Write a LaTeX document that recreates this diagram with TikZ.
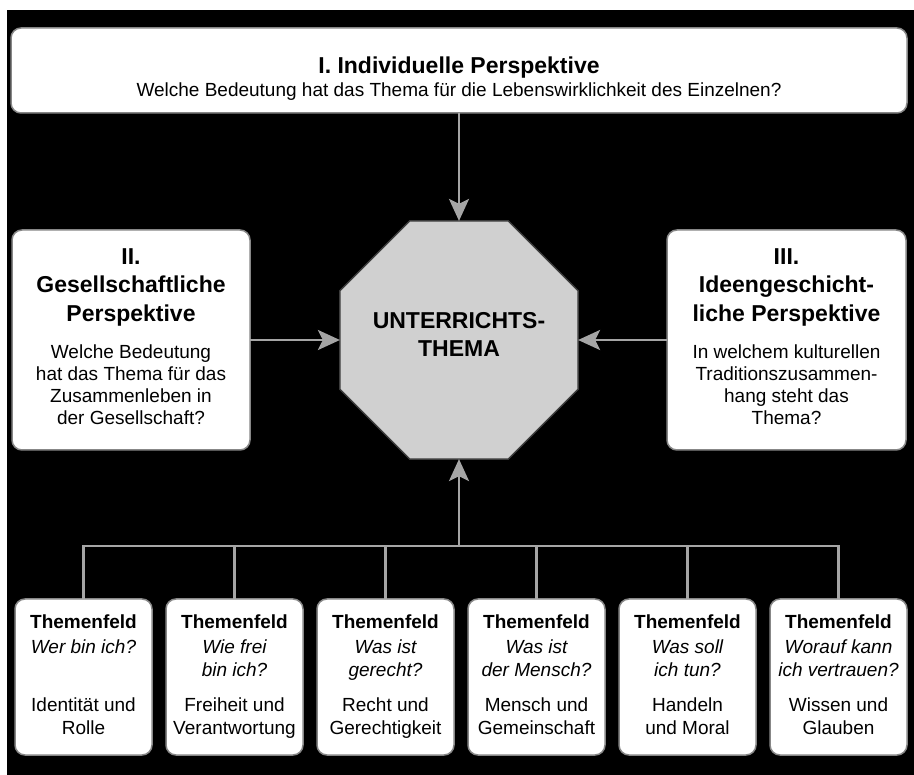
\documentclass[tikz,border=0pt]{standalone}
\usepackage{fontspec}
\setmainfont{Liberation Sans}
\usetikzlibrary{shapes.geometric,arrows.meta}
\definecolor{boxgray}{RGB}{135,135,135}
\definecolor{linegray}{RGB}{165,165,165}
\definecolor{octfill}{RGB}{208,208,208}
\definecolor{octline}{RGB}{60,60,60}
\begin{document}
\begin{tikzpicture}[x=1pt,y=-1pt,
  box/.style={draw=boxgray, line width=1.5pt, fill=white, rounded corners=10pt, inner sep=0pt, outer sep=0pt},
  con/.style={draw=linegray, line width=2.8pt},
  arr/.style={con, -{Stealth[length=22pt,width=20pt,inset=5pt,fill=linegray]}},
  tb/.style={font=\bfseries\fontsize{23}{28}\selectfont},
  sb/.style={font=\bfseries\fontsize{19}{23}\selectfont},
  t/.style={font=\fontsize{19}{23}\selectfont},
  ti/.style={font=\itshape\fontsize{19}{23}\selectfont},
  lbl/.style={inner sep=0pt, outer sep=0pt, anchor=base, text=black}
]
\useasboundingbox (0,0) rectangle (914,775);
\fill[white] (0,0) rectangle (914,775);
\fill[black] (7,10) rectangle (914,775);

% boxes
\node[box, minimum width=896pt, minimum height=85pt] (top) at (459,70.5) {};
\node[box, minimum width=238pt, minimum height=220pt] (left) at (131,340) {};
\node[box, minimum width=239pt, minimum height=220pt] (right) at (786.5,340) {};
\node[draw=octline, line width=1.5pt, fill=octfill, regular polygon, regular polygon sides=8,
      minimum size=257.8pt, inner sep=0pt, outer sep=0pt] (oct) at (459,340) {};
\foreach \cx [count=\i] in {83.5,234.5,385.5,536.5,687.5,838.5}
  \node[box, minimum width=137pt, minimum height=156pt] (f\i) at (\cx,677) {};

% connectors
\draw[arr] (top.south) -- (oct.north);
\draw[arr] (left.east) -- (oct.west);
\draw[arr] (right.west) -- (oct.east);
\coordinate (hub) at (459,546);
\draw[con] (f1.north) |- (hub);
\draw[con] (f6.north) |- (hub);
\foreach \i in {2,...,5} \draw[con] (f\i.north) -- (f\i.north |- hub);
\draw[arr] (hub) -- (oct.south);

% texts
\foreach \x/\y/\s/\txt [count=\n] in {
  459/74/tb/{I. Individuelle Perspektive},
  459/97/t/{Welche Bedeutung hat das Thema für die Lebenswirklichkeit des Einzelnen?},
  131/265/tb/{II.},
  131/293/tb/{Gesellschaftliche},
  131/322/tb/{Perspektive},
  131/359/t/{Welche Bedeutung},
  131/381/t/{hat das Thema für das},
  131/403/t/{Zusammenleben in},
  131/425/t/{der Gesellschaft?},
  786.5/265/tb/{III.},
  786.5/293/tb/{Ideengeschicht-},
  786.5/322/tb/{liche Perspektive},
  786.5/359/t/{In welchem kulturellen},
  786.5/381/t/{Traditionszusammen-},
  786.5/403/t/{hang steht das},
  786.5/425/t/{Thema?},
  459/329/tb/{UNTERRICHTS-},
  459/357/tb/{THEMA},
  83.5/629/sb/{Themenfeld},
  83.5/653/ti/{Wer bin ich?},
  83.5/711/t/{Identität und},
  83.5/734/t/{Rolle},
  234.5/629/sb/{Themenfeld},
  234.5/653/ti/{Wie frei},
  234.5/677/ti/{bin ich?},
  234.5/711/t/{Freiheit und},
  234.5/734/t/{Verantwortung},
  385.5/629/sb/{Themenfeld},
  385.5/653/ti/{Was ist},
  385.5/677/ti/{gerecht?},
  385.5/711/t/{Recht und},
  385.5/734/t/{Gerechtigkeit},
  536.5/629/sb/{Themenfeld},
  536.5/653/ti/{Was ist},
  536.5/677/ti/{der Mensch?},
  536.5/711/t/{Mensch und},
  536.5/734/t/{Gemeinschaft},
  687.5/629/sb/{Themenfeld},
  687.5/653/ti/{Was soll},
  687.5/677/ti/{ich tun?},
  687.5/711/t/{Handeln},
  687.5/734/t/{und Moral},
  838.5/629/sb/{Themenfeld},
  838.5/653/ti/{Worauf kann},
  838.5/677/ti/{ich vertrauen?},
  838.5/711/t/{Wissen und},
  838.5/734/t/{Glauben}}
  \node[lbl, \s] (L\n) at (\x,\y) {\txt};
\end{tikzpicture}
\end{document}
